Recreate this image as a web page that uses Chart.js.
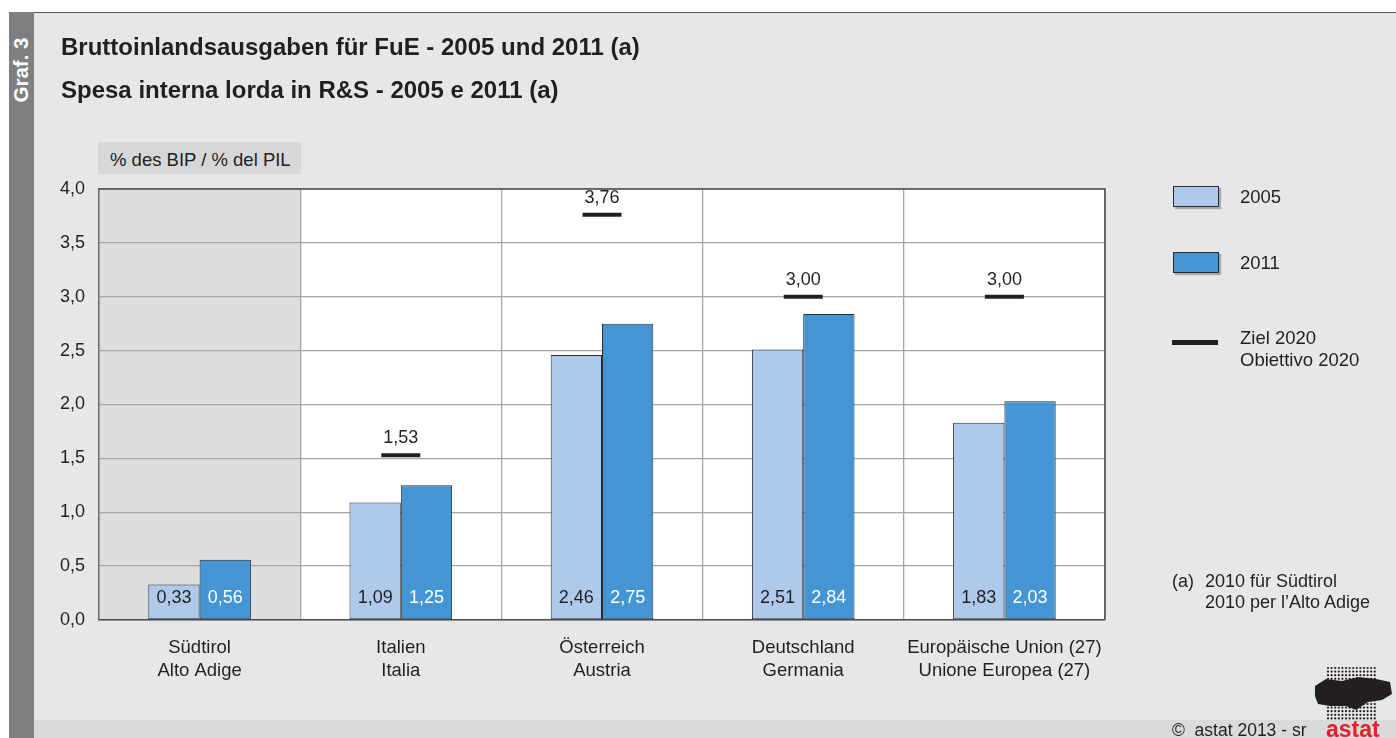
<!DOCTYPE html>
<html><head><meta charset="utf-8">
<script src="https://cdn.jsdelivr.net/npm/chart.js@4/dist/chart.umd.min.js"></script>
<style>
html,body{margin:0;padding:0;}
body{width:1396px;height:738px;position:relative;overflow:hidden;background:#fff;font-family:"Liberation Sans",Arial,sans-serif;color:#231f20;}
#bg{position:absolute;left:9px;top:12px;right:0;bottom:0;background:#e6e7e9;border-top:1.5px solid #58595b;}
#strip{position:absolute;left:9px;top:12px;width:25px;bottom:0;background:#7e7f81;}
#graf{position:absolute;left:21px;top:70px;transform:translate(-50%,-50%) rotate(-90deg);color:#fff;font-weight:bold;font-size:20.5px;line-height:1;white-space:nowrap;}
#foot{position:absolute;left:34px;right:0;top:720px;bottom:0;background:#d9dadc;}
canvas{position:absolute;left:0;top:0;}
.t{position:absolute;white-space:nowrap;line-height:1;}
.title{font-weight:bold;font-size:24px;left:61px;}
#ylab{position:absolute;left:98px;top:142px;width:203px;height:32px;background:#d6d7d9;}
#ylab span{position:absolute;left:12px;top:9px;font-size:18.5px;line-height:1;white-space:nowrap;}
.sw{position:absolute;left:1173px;width:44px;height:19px;border:1px solid #2b2b2b;box-shadow:2px 2px 1px #a8a9ab;}
.lt{font-size:18.5px;left:1240px;}
</style></head>
<body>
<div id="bg"></div>
<div id="strip"></div>
<div id="graf">Graf. 3</div>
<div id="foot"></div>
<canvas id="c" width="1396" height="738"></canvas>
<div class="t title" style="top:34.5px">Bruttoinlandsausgaben für FuE - 2005 und 2011 (a)</div>
<div class="t title" style="top:77.5px">Spesa interna lorda in R&amp;S - 2005 e 2011 (a)</div>
<div id="ylab"><span>% des BIP / % del PIL</span></div>
<div class="sw" style="top:186px;background:#aec9ea"></div>
<div class="t lt" style="top:187.5px">2005</div>
<div class="sw" style="top:252px;background:#4396d3"></div>
<div class="t lt" style="top:253.5px">2011</div>
<div style="position:absolute;left:1172px;top:339.5px;width:46px;height:5px;background:#231f20"></div>
<div class="t lt" style="top:326.5px;line-height:22.5px">Ziel 2020<br>Obiettivo 2020</div>
<div class="t" style="left:1172px;top:571px;font-size:18px;line-height:21px">(a)</div>
<div class="t" style="left:1205px;top:571px;font-size:18px;line-height:21px">2010 für Südtirol<br>2010 per l’Alto Adige</div>
<div class="t" style="left:1172px;top:721.5px;font-size:17.5px">©&nbsp; astat 2013 - sr</div>
<div class="t" style="left:1326px;top:717.5px;font-size:23px;font-weight:bold;color:#e3202c">astat</div>
<canvas id="logo" width="90" height="60" style="left:1310px;top:662px"></canvas>
<script>
const categories = [['Südtirol','Alto Adige'], ['Italien','Italia'], ['Österreich','Austria'], ['Deutschland','Germania'], ['Europäische Union (27)','Unione Europea (27)']];
const values2005 = [0.33, 1.09, 2.46, 2.51, 1.83];
const values2011 = [0.56, 1.25, 2.75, 2.84, 2.03];
const target2020 = [null, 1.53, 3.76, 3.00, 3.00];
const seriesNames = ['2005', '2011', 'Ziel 2020 / Obiettivo 2020'];

const FONT = '"Liberation Sans", Arial, sans-serif';
const fmt = (v, d) => v.toFixed(d).replace('.', ',');

const bgPlugin = {
  id: 'bgPlugin',
  beforeDraw(chart) {
    const {ctx, chartArea: a, scales: {x}} = chart;
    ctx.save();
    ctx.fillStyle = '#ffffff';
    ctx.fillRect(a.left, a.top, a.right - a.left, a.bottom - a.top);
    const half = (x.getPixelForTick(1) - x.getPixelForTick(0)) / 2;
    ctx.fillStyle = '#dcdddf';
    ctx.fillRect(a.left, a.top, x.getPixelForTick(0) + half - a.left, a.bottom - a.top);
    ctx.restore();
  },
  afterDatasetsDraw(chart) {
    const {ctx, chartArea: a} = chart;
    ctx.save();
    ctx.strokeStyle = '#4d4d4f';
    ctx.lineWidth = 1.5;
    ctx.beginPath();
    ctx.moveTo(a.left, a.top); ctx.lineTo(a.right, a.top); ctx.lineTo(a.right, a.bottom);
    ctx.stroke();
    ctx.font = '18px ' + FONT;
    ctx.textAlign = 'center';
    ctx.textBaseline = 'middle';
    chart.data.datasets.forEach((ds, i) => {
      const meta = chart.getDatasetMeta(i);
      meta.data.forEach((el, j) => {
        const v = ds.data[j];
        if (v == null) return;
        if (ds.type === 'line') {
          ctx.fillStyle = '#231f20';
          ctx.fillText(fmt(v, 2), el.x, el.y - 17);
        } else {
          ctx.fillStyle = i === 1 ? '#ffffff' : '#231f20';
          ctx.fillText(fmt(v, 2), el.x, a.bottom - 21.5);
        }
      });
    });
    ctx.restore();
  }
};

new Chart(document.getElementById('c'), {
  type: 'bar',
  data: {
    labels: categories,
    datasets: [
      {label: seriesNames[0], data: values2005, backgroundColor: '#aec9ea', borderColor: '#2b2b2b', borderWidth: 1, borderSkipped: false, categoryPercentage: 0.51, barPercentage: 1, order: 2},
      {label: seriesNames[1], data: values2011, backgroundColor: '#4396d3', borderColor: '#2b2b2b', borderWidth: 1, borderSkipped: false, categoryPercentage: 0.51, barPercentage: 1, order: 2},
      {label: seriesNames[2], type: 'line', data: target2020, showLine: false, pointStyle: 'line', pointRadius: 19.5, pointHoverRadius: 19.5, pointBorderWidth: 4, borderColor: '#231f20', backgroundColor: '#231f20', order: 1}
    ]
  },
  options: {
    responsive: false,
    animation: false,
    layout: {padding: {left: 0, top: 189, right: 291, bottom: 0}},
    plugins: {legend: {display: false}, tooltip: {enabled: false}},
    scales: {
      x: {
        offset: true,
        grid: {offset: true, color: '#a5a6a8', lineWidth: 1.3, drawTicks: false},
        border: {color: '#4d4d4f', width: 1.5},
        ticks: {font: {size: 18.5, family: FONT, lineHeight: 1.22}, color: '#231f20', padding: 17, maxRotation: 0, autoSkip: false},
        afterFit(s) { s.height = 118; }
      },
      y: {
        min: 0, max: 4,
        grid: {color: '#a5a6a8', lineWidth: 1.3, drawTicks: false},
        border: {color: '#6d6e70', width: 1.5},
        ticks: {stepSize: 0.5, padding: 14, font: {size: 18, family: FONT}, color: '#231f20', callback: v => fmt(v, 1)},
        afterFit(s) { s.width = 99; }
      }
    }
  },
  plugins: [bgPlugin]
});

// astat logo (decorative)
(function(){
  const c = document.getElementById('logo').getContext('2d');
  c.fillStyle = '#231f20';
  c.beginPath();
  c.moveTo(5,24); c.lineTo(16,17); c.lineTo(32,19); c.lineTo(48,15); c.lineTo(66,17); c.lineTo(80,20);
  c.lineTo(82,32); c.lineTo(72,38); c.lineTo(58,40); c.lineTo(46,48); c.lineTo(36,44); c.lineTo(20,44); c.lineTo(8,42); c.lineTo(5,34);
  c.closePath(); c.fill();
  for (let yy = 6; yy < 58; yy += 3.6) {
    for (let xx = 18; xx < 68; xx += 3.6) {
      c.beginPath(); c.arc(xx, yy, 1.1, 0, Math.PI*2); c.fill();
    }
  }
})();
</script>
</body></html>
